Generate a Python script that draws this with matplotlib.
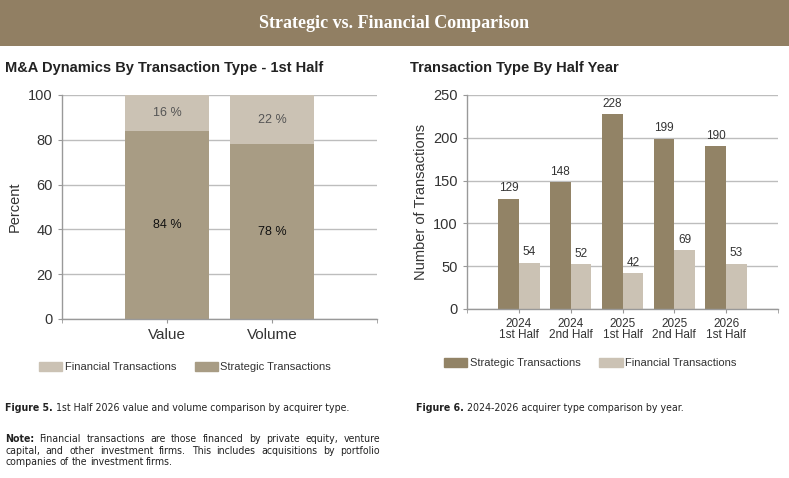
import matplotlib
matplotlib.use("Agg")
import matplotlib.pyplot as plt
from matplotlib.patches import Rectangle, Patch
import numpy as np

# ---- data ----
left_categories = ["Value", "Volume"]
left_strategic = [84, 78]
left_financial = [16, 22]
left_yticks = [0, 20, 40, 60, 80, 100]

right_categories = ["2024\n1st Half", "2024\n2nd Half", "2025\n1st Half", "2025\n2nd Half", "2026\n1st Half"]
right_strategic = [129, 148, 228, 199, 190]
right_financial = [54, 52, 42, 69, 53]
right_yticks = [0, 50, 100, 150, 200, 250]

header_title = "Strategic vs. Financial Comparison"
left_title = "M&A Dynamics By Transaction Type - 1st Half"
right_title = "Transaction Type By Half Year"
note_text = ("Financial transactions are those financed by private equity, venture "
             "capital, and other investment firms. This includes acquisitions by portfolio "
             "companies of the investment firms.")

# ---- style ----
W, H = 789, 478
C_HEADER = "#917F63"
C_STRAT_L = "#A89C84"
C_STRAT_R = "#928366"
C_FIN = "#CBC2B4"
C_GRID = "#BDBDBD"
C_TEXT = "#333333"
SANS = "Liberation Sans"

plt.rcParams['font.family'] = SANS
fig = plt.figure(figsize=(W / 100, H / 100), dpi=100)

def fx(px):
    return px / W

def fy(py):
    return 1 - py / H

# header band
fig.patches.append(Rectangle((0, fy(46)), 1, 46 / H, transform=fig.transFigure,
                             facecolor=C_HEADER, edgecolor="none", zorder=0))
fig.text(0.5, fy(23), header_title, ha="center", va="center", color="white",
         fontsize=13, fontweight="bold", family="Liberation Serif")

fig.text(fx(5), fy(68), left_title, ha="left", va="center", fontsize=10.5,
         fontweight="bold", color="#222222")
fig.text(fx(410), fy(68), right_title, ha="left", va="center", fontsize=10.5,
         fontweight="bold", color="#222222")

def style_axes(ax, xmax):
    for s in ["top", "right"]:
        ax.spines[s].set_visible(False)
    for s in ["left", "bottom"]:
        ax.spines[s].set_color("#999999")
        ax.spines[s].set_linewidth(1)
    ax.yaxis.grid(True, color=C_GRID, linewidth=1)
    ax.set_axisbelow(True)
    ax.tick_params(axis="both", colors="#999999", length=3, labelcolor=C_TEXT)
    ax.set_xticks([0, xmax], minor=True)
    ax.tick_params(axis="x", which="minor", length=3, colors="#999999")

LEG_KW = dict(ncol=2, frameon=False, fontsize=8, handlelength=2.1, handleheight=0.85,
              handletextpad=0.2, labelcolor=C_TEXT, borderpad=0, borderaxespad=0,
              columnspacing=1.7)

# ---- left chart ----
axL = fig.add_axes([fx(62), fy(319), fx(315), 224 / H])
xL = np.arange(1, len(left_categories) + 1)
axL.bar(xL, left_strategic, width=0.8, color=C_STRAT_L, zorder=2)
axL.bar(xL, left_financial, width=0.8, bottom=left_strategic, color=C_FIN, zorder=2)
for x, s, f in zip(xL, left_strategic, left_financial):
    axL.text(x, s / 2, f"{s} %", ha="center", va="center", fontsize=9, color="#111111")
    axL.text(x, s + f / 2, f"{f} %", ha="center", va="center", fontsize=9, color="#555555")
axL.set_xlim(0, 3)
axL.set_ylim(0, 100)
axL.set_yticks(left_yticks)
axL.set_xticks(xL)
axL.set_xticklabels(left_categories, fontsize=11)
axL.tick_params(axis="y", labelsize=10.5)
axL.set_ylabel("Percent", fontsize=10.5, color=C_TEXT, labelpad=5)
style_axes(axL, 3)

fig.legend(handles=[Patch(color=C_FIN, label="Financial Transactions"),
                    Patch(color=C_STRAT_L, label="Strategic Transactions")],
           loc="center left", bbox_to_anchor=(fx(39), fy(367)), **LEG_KW)

# ---- right chart ----
axR = fig.add_axes([fx(467), fy(309), fx(311), 214 / H])
xR = np.arange(1, len(right_categories) + 1)
bw = 0.4
axR.bar(xR - bw / 2, right_strategic, width=bw, color=C_STRAT_R, zorder=2)
axR.bar(xR + bw / 2, right_financial, width=bw, color=C_FIN, zorder=2)
for x, s, f in zip(xR, right_strategic, right_financial):
    axR.text(x - bw / 2, s + 5, str(s), ha="center", va="bottom", fontsize=8.5, color=C_TEXT)
    axR.text(x + bw / 2, f + 5, str(f), ha="center", va="bottom", fontsize=8.5, color=C_TEXT)
axR.set_xlim(0, 6)
axR.set_ylim(0, 250)
axR.set_yticks(right_yticks)
axR.set_xticks(xR)
axR.set_xticklabels(right_categories, fontsize=8.5, linespacing=0.85)
axR.tick_params(axis="y", labelsize=10.5)
axR.set_ylabel("Number of Transactions", fontsize=10.5, color=C_TEXT, labelpad=4)
style_axes(axR, 6)

fig.legend(handles=[Patch(color=C_STRAT_R, label="Strategic Transactions"),
                    Patch(color=C_FIN, label="Financial Transactions")],
           loc="center left", bbox_to_anchor=(fx(444), fy(363)), **LEG_KW)

# ---- captions ----
CAP = "DejaVu Sans"
CAP_FS = 7.6
CAP_KW = dict(fontsize=CAP_FS, family=CAP, fontstretch="condensed")

def rich_line(x, y, parts):
    fig.canvas.draw()
    r = fig.canvas.get_renderer()
    cx = x
    for txt, bold in parts:
        t = fig.text(fx(cx), fy(y), txt, ha="left", va="center",
                     fontweight="bold" if bold else "normal", color="#222222", **CAP_KW)
        bb = t.get_window_extent(renderer=r)
        cx += bb.width

rich_line(5, 408, [("Figure 5. ", True), ("1st Half 2026 value and volume comparison by acquirer type.", False)])
rich_line(416, 408, [("Figure 6. ", True), ("2024-2026 acquirer type comparison by year.", False)])

# justified note paragraph
def justified(x0, x1, y0, lh, lead, text):
    fig.canvas.draw()
    r = fig.canvas.get_renderer()
    def width(s, bold=False):
        t = fig.text(0, 0, s, fontweight="bold" if bold else "normal", **CAP_KW)
        w = t.get_window_extent(renderer=r).width
        t.remove()
        return w
    space = width("a a") - width("aa")
    words = [(lead, True)] + [(w, False) for w in text.split()]
    lines, cur, cw = [], [], 0
    for w, b in words:
        ww = width(w, b)
        add = ww + (space if cur else 0)
        if cur and cw + add > (x1 - x0):
            lines.append(cur)
            cur, cw = [], 0
            add = ww
        cur.append((w, b, ww))
        cw += add
    if cur:
        lines.append(cur)
    for i, line in enumerate(lines):
        y = y0 + i * lh
        total = sum(ww for _, _, ww in line)
        gaps = len(line) - 1
        last = i == len(lines) - 1
        gap = space if (last or gaps == 0) else (x1 - x0 - total) / gaps
        cx = x0
        for w, b, ww in line:
            fig.text(fx(cx), fy(y), w, ha="left", va="center",
                     fontweight="bold" if b else "normal", color="#222222", **CAP_KW)
            cx += ww + gap

justified(5, 380, 439, 11.5, "Note:", note_text)

fig.savefig("out.png", dpi=100)
